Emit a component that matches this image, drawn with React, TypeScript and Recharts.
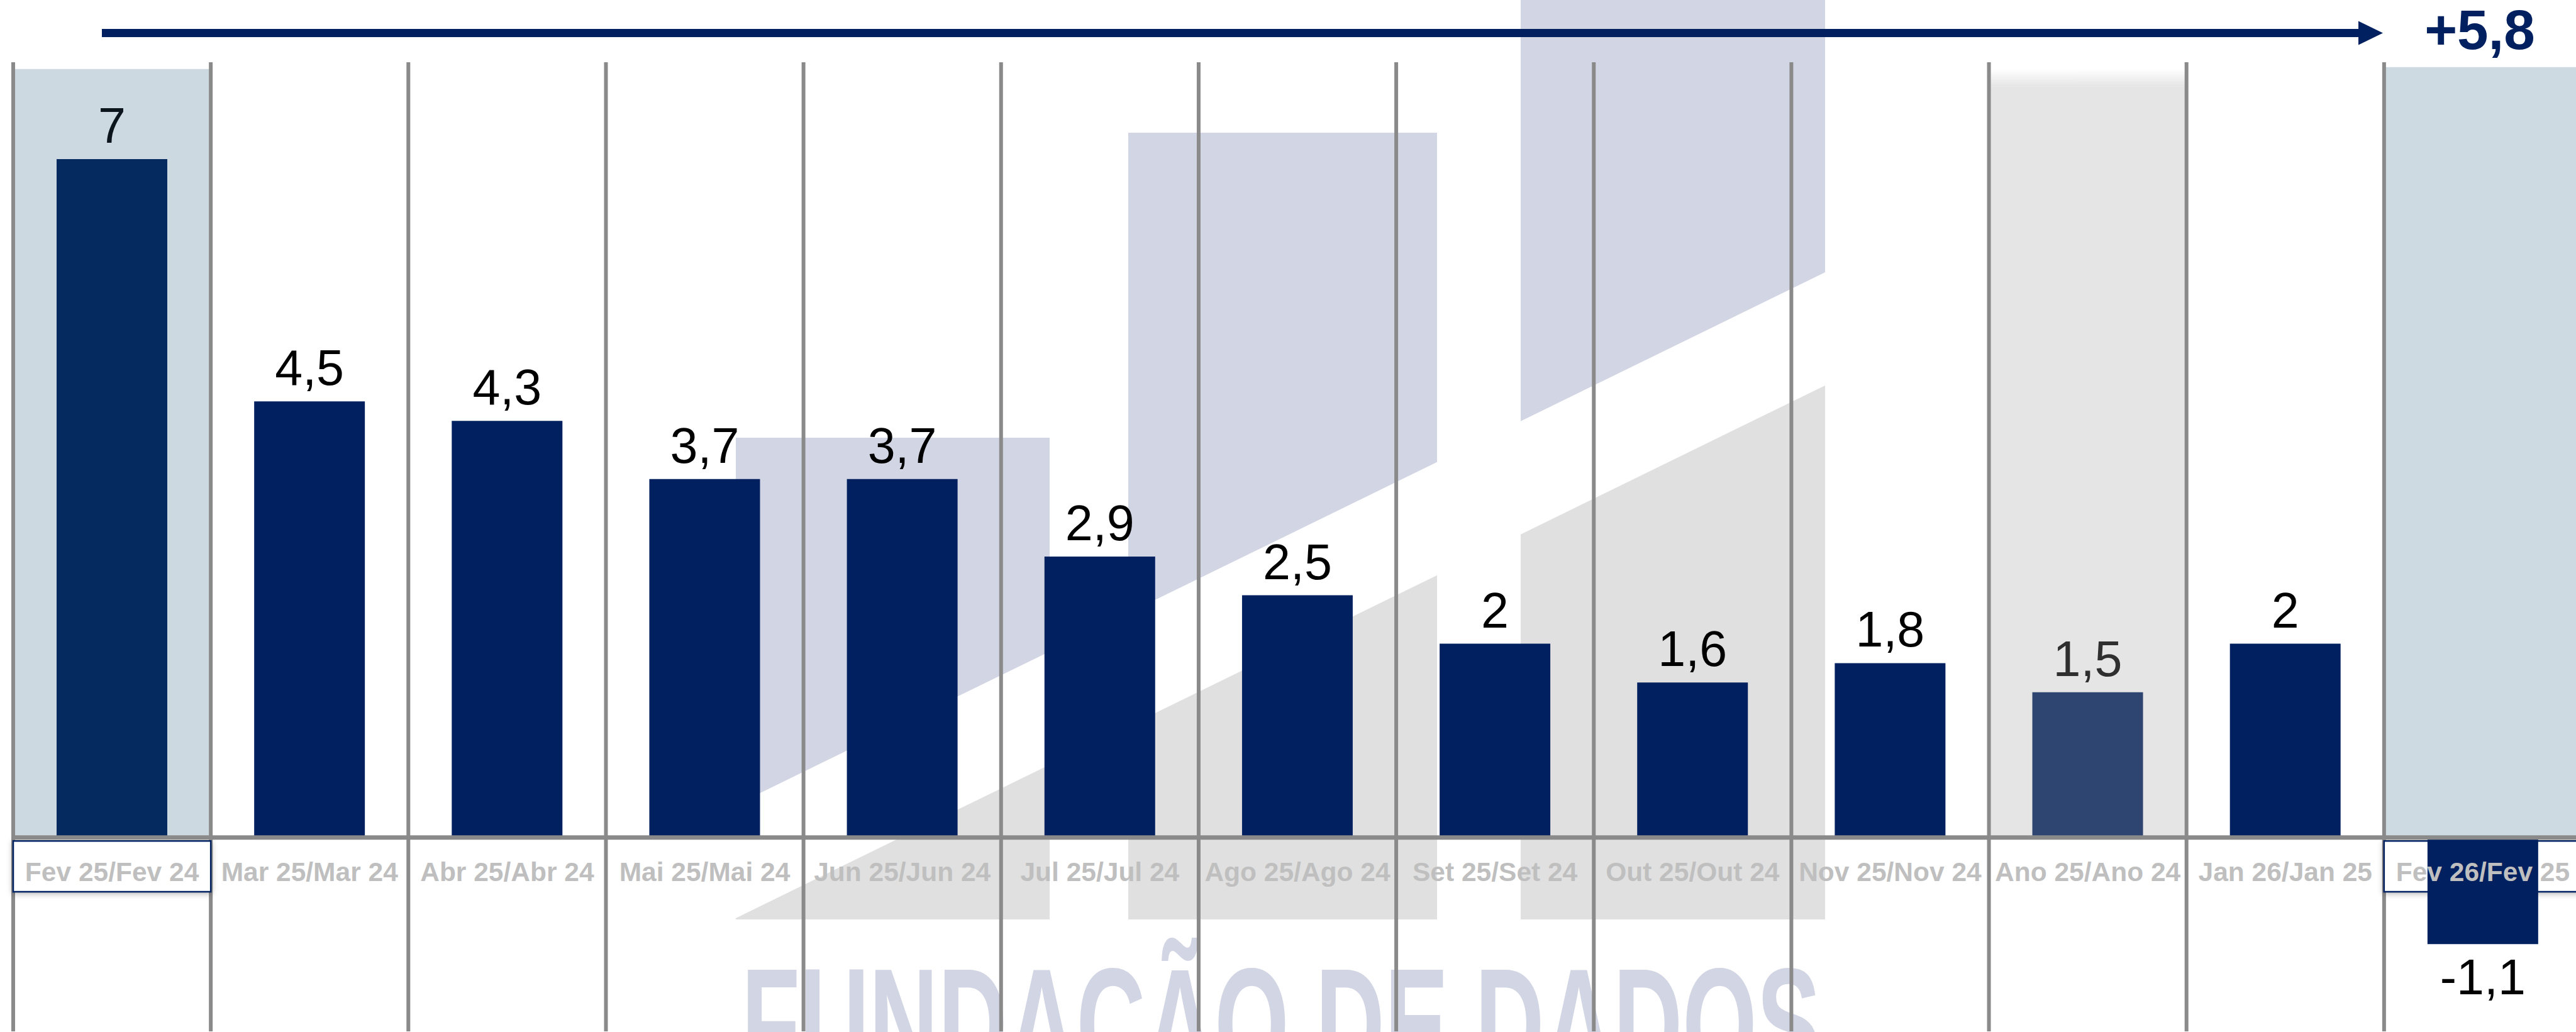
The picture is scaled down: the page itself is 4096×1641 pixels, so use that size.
import React from "react";
import {
  BarChart,
  Bar,
  XAxis,
  YAxis,
  Cell,
  LabelList,
  ReferenceArea,
  ReferenceLine,
} from "recharts";

// chart data
const categories = [
  "Fev 25/Fev 24",
  "Mar 25/Mar 24",
  "Abr 25/Abr 24",
  "Mai 25/Mai 24",
  "Jun 25/Jun 24",
  "Jul 25/Jul 24",
  "Ago 25/Ago 24",
  "Set 25/Set 24",
  "Out 25/Out 24",
  "Nov 25/Nov 24",
  "Ano 25/Ano 24",
  "Jan 26/Jan 25",
  "Fev 26/Fev 25",
];
const values = [7, 4.5, 4.3, 3.7, 3.7, 2.9, 2.5, 2, 1.6, 1.8, 1.5, 2, -1.1];
const boxedCategories = ["Fev 25/Fev 24", "Fev 26/Fev 25"];
const yearCategory = "Ano 25/Ano 24";
const cumulativeLabel = "+5,8";
const watermarkText = "FUNDAÇÃO DE DADOS";

const data = categories.map((name, i) => ({ name, value: values[i] }));

// layout
const W = 4096;
const H = 1641;
const CHART_W = 4105;
const MARGIN_LEFT = 21;
const MARGIN_TOP = 99;
const PLOT_H = 1541;
const Y_MIN = -2;
const Y_MAX = 8;
const ZERO_Y = MARGIN_TOP + (PLOT_H * Y_MAX) / (Y_MAX - Y_MIN);

const NAVY = "#002060";
const FONT = "'Liberation Sans', Arial, sans-serif";

const fmt = (v: number) => String(v).replace(".", ",");

function barColor(name: string) {
  if (name === boxedCategories[0]) return "#052a60";
  if (name === yearCategory) return "#2f4571";
  return NAVY;
}

function labelColor(name: string) {
  if (name === boxedCategories[0]) return "#0b151b";
  if (name === yearCategory) return "#2f2f2f";
  return "#000000";
}

function CategoryTick(props: any) {
  const { x, payload } = props;
  return (
    <text
      x={x}
      y={ZERO_Y + 69}
      textAnchor="middle"
      fontFamily={FONT}
      fontWeight="bold"
      fontSize={42.5}
      fill="#bfbfbf"
    >
      {payload.value}
    </text>
  );
}

function ValueLabel(props: any) {
  const vb = props.viewBox ?? props;
  const { x, y, width, height } = vb;
  const top = Math.min(y, y + height);
  const bottom = Math.max(y, y + height);
  const v = Number(props.value);
  const name = categories[props.index];
  return (
    <text
      x={x + width / 2}
      y={v >= 0 ? top - 26 : bottom + 80}
      textAnchor="middle"
      fontFamily={FONT}
      fontSize={79}
      fill={labelColor(name)}
    >
      {fmt(v)}
    </text>
  );
}

// watermark logo (decoration behind the chart)
const logoCols = [
  [1170, 1669, 696],
  [1794, 2285, 211],
  [2418, 2902, 0],
];
const cutUpper = (x: number) => 433 + 0.489 * (2902 - x);
const cutLower = (x: number) => 613 + 0.489 * (2902 - x);
const LOGO_BOTTOM = 1462;

function Backdrop() {
  return (
    <svg
      width={W}
      height={H}
      style={{ position: "absolute", left: 0, top: 0 }}
    >
      <defs>
        <filter id="boxShadow" x="-10%" y="-40%" width="120%" height="180%">
          <feDropShadow dx="0" dy="2" stdDeviation="5" floodColor="#000" floodOpacity="0.3" />
        </filter>
        <linearGradient id="yearFade" x1="0" y1="0" x2="0" y2="1">
          <stop offset="0" stopColor="#ffffff" />
          <stop offset="1" stopColor="#e5e5e5" />
        </linearGradient>
      </defs>
      {logoCols.map(([x0, x1, top], i) => (
        <g key={i}>
          <polygon
            points={`${x0},${top} ${x1},${top} ${x1},${cutUpper(x1)} ${x0},${cutUpper(x0)}`}
            fill="#d2d5e3"
          />
          <polygon
            points={`${x0},${cutLower(x0)} ${x1},${cutLower(x1)} ${x1},${LOGO_BOTTOM} ${x0},${LOGO_BOTTOM}`}
            fill="#e0e0e0"
          />
        </g>
      ))}
      <text
        x={1179}
        y={1716}
        fontFamily={FONT}
        fontWeight="bold"
        fontSize={253}
        fill="#d2d5e3"
        textLength={1716}
        lengthAdjust="spacingAndGlyphs"
      >
        {watermarkText}
      </text>
      {/* trend arrow */}
      <rect x={162} y={46} width={3590} height={13} fill={NAVY} />
      <polygon points="3750,33.5 3789,52.5 3750,71.5" fill={NAVY} />
      <text
        x={3943}
        y={78}
        textAnchor="middle"
        fontFamily={FONT}
        fontWeight="bold"
        fontSize={89}
        fill={NAVY}
      >
        {cumulativeLabel}
      </text>
    </svg>
  );
}

export default function App() {
  return (
    <div
      style={{
        position: "absolute",
        left: 0,
        top: 0,
        width: W,
        height: H,
        overflow: "hidden",
        background: "#ffffff",
      }}
    >
      <Backdrop />
      <div style={{ position: "absolute", left: 0, top: 0 }}>
        <BarChart
          width={CHART_W}
          height={H}
          data={data}
          margin={{ top: MARGIN_TOP, right: 0, bottom: 0, left: MARGIN_LEFT }}
          barSize={176}
        >
          <YAxis hide domain={[Y_MIN, Y_MAX]} allowDataOverflow />
          <ReferenceArea
            x1={boxedCategories[0]}
            x2={boxedCategories[0]}
            y1={0}
            y2={7.93}
            fill="#ccd9e1"
            fillOpacity={1}
            zIndex={-80}
          />
          <ReferenceArea
            x1={yearCategory}
            x2={yearCategory}
            y1={0}
            y2={7.75}
            fill="#e5e5e5"
            fillOpacity={1}
            zIndex={-80}
          />
          <ReferenceArea
            x1={yearCategory}
            x2={yearCategory}
            y1={7.75}
            y2={7.93}
            fill="url(#yearFade)"
            fillOpacity={1}
            zIndex={-80}
          />
          <ReferenceArea
            x1={boxedCategories[1]}
            x2={boxedCategories[1]}
            y1={0}
            y2={7.95}
            fill="#cddae2"
            fillOpacity={1}
            zIndex={-80}
          />
          {categories.map((c) => (
            <ReferenceLine
              key={c}
              x={c}
              position="start"
              stroke="#8a8a8a"
              strokeWidth={6}
              zIndex={-60}
            />
          ))}
          {boxedCategories.map((c) => (
            <ReferenceArea
              key={c}
              x1={c}
              x2={c}
              y1={-0.035}
              y2={-0.56}
              fill="#ffffff"
              fillOpacity={1}
              stroke={NAVY}
              strokeWidth={2.5}
              filter="url(#boxShadow)"
              zIndex={250}
            />
          ))}
          <Bar dataKey="value" isAnimationActive={false}>
            {data.map((d) => (
              <Cell key={d.name} fill={barColor(d.name)} />
            ))}
            <LabelList dataKey="value" content={ValueLabel} />
          </Bar>
          <ReferenceLine y={0} stroke="#8a8a8a" strokeWidth={7} zIndex={350} />
          <XAxis
            dataKey="name"
            height={1}
            axisLine={false}
            tickLine={false}
            interval={0}
            tick={CategoryTick}
          />
        </BarChart>
      </div>
    </div>
  );
}
